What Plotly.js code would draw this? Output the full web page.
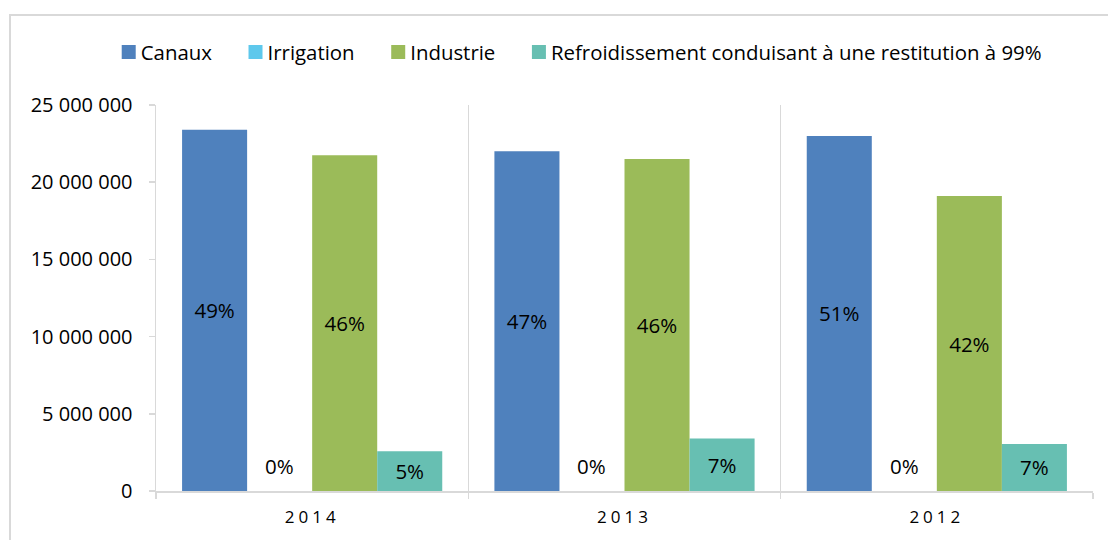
<!DOCTYPE html>
<html>
<head>
<meta charset="utf-8">
<script src="https://cdn.plot.ly/plotly-3.0.1.min.js"></script>
<style>
  body { margin:0; overflow:hidden; background:#fff; }
  #frame { position:absolute; left:9px; top:14px; width:1200px; height:600px; border:2px solid #d9d9d9; pointer-events:none; z-index:10; }
  #chart { position:absolute; left:0; top:0; width:1108px; height:540px; }
  .xtick text { letter-spacing: 4px; }
  .legendpoints path { d: path('M15,7H1V-7H15Z'); }
</style>
</head>
<body>
<div id="chart"></div>
<div id="frame"></div>
<script>
const categories = ['2014', '2013', '2012'];
const seriesNames = ['Canaux', 'Irrigation', 'Industrie', 'Refroidissement conduisant à une restitution à 99%'];
const canaux = [23400000, 22000000, 23000000];
const irrigation = [0, 0, 0];
const industrie = [21750000, 21500000, 19100000];
const refroidissement = [2570000, 3400000, 3050000];
const colors = ['#4F81BD', '#5EC8EC', '#9BBB59', '#67BFB2'];

const series = [canaux, irrigation, industrie, refroidissement];
const totals = categories.map((c, i) => series.reduce((s, arr) => s + arr[i], 0));
const pct = arr => arr.map((v, i) => Math.round(v / totals[i] * 100) + '%');

const FONT = 'Open Sans, Lato, sans-serif';
const bargap = 0.167;
const NB = '\u00a0\u00a0';

const traces = series.map((arr, k) => ({
  type: 'bar',
  name: k < series.length - 1 ? seriesNames[k] + NB : seriesNames[k],
  x: categories,
  y: arr,
  marker: { color: colors[k], line: { width: 0 } },
  text: k === 1 ? undefined : pct(arr),
  textposition: k === 1 ? 'none' : 'inside',
  insidetextanchor: 'middle',
  textangle: 0,
  constraintext: 'none',
  insidetextfont: { family: FONT, size: 20.5, color: '#000' },
  hoverinfo: 'x+y+name'
}));

// zero-height Irrigation labels placed over their bar slot
const w = (1 - bargap) / series.length;
const irrOffset = -(1 - bargap) / 2 + 1.5 * w;
const annotations = categories.map((c, i) => ({
  x: i + irrOffset, y: irrigation[i], xref: 'x', yref: 'y',
  text: pct(irrigation)[i], showarrow: false,
  yanchor: 'middle', yshift: 25,
  font: { family: FONT, size: 20.5, color: '#000' }
}));

const layout = {
  width: 1108, height: 540,
  margin: { l: 156, r: 15, t: 105, b: 49 },
  paper_bgcolor: '#fff', plot_bgcolor: '#fff',
  separators: ', ',
  barmode: 'group', bargap: bargap, bargroupgap: 0,
  font: { family: FONT, size: 20, color: '#000' },
  showlegend: true,
  legend: {
    orientation: 'h', x: -0.059, xanchor: 'left', y: 1.137, yanchor: 'middle',
    font: { family: FONT, size: 20.4, color: '#000' },
    traceorder: 'normal', bgcolor: 'rgba(0,0,0,0)'
  },
  xaxis: {
    type: 'category',
    showline: true, linecolor: '#d9d9d9', linewidth: 1.5,
    showgrid: true, gridcolor: '#d9d9d9', gridwidth: 1.5,
    tickson: 'boundaries', ticks: 'outside', ticklen: 6, tickcolor: '#d9d9d9', tickwidth: 1.5,
    tickfont: { family: FONT, size: 17, color: '#000' },
    ticklabelstandoff: 10,
    zeroline: false
  },
  yaxis: {
    range: [0, 25000000], dtick: 5000000, tickformat: ',d',
    showline: true, linecolor: '#d9d9d9', linewidth: 1.5,
    showgrid: false, zeroline: false,
    ticks: 'outside', ticklen: 6, tickcolor: '#d9d9d9', tickwidth: 1.5,
    tickfont: { family: FONT, size: 20, color: '#000' },
    ticklabelstandoff: 12
  },
  annotations: annotations
};

Plotly.newPlot('chart', traces, layout, { displayModeBar: false, staticPlot: true });
</script>
</body>
</html>
